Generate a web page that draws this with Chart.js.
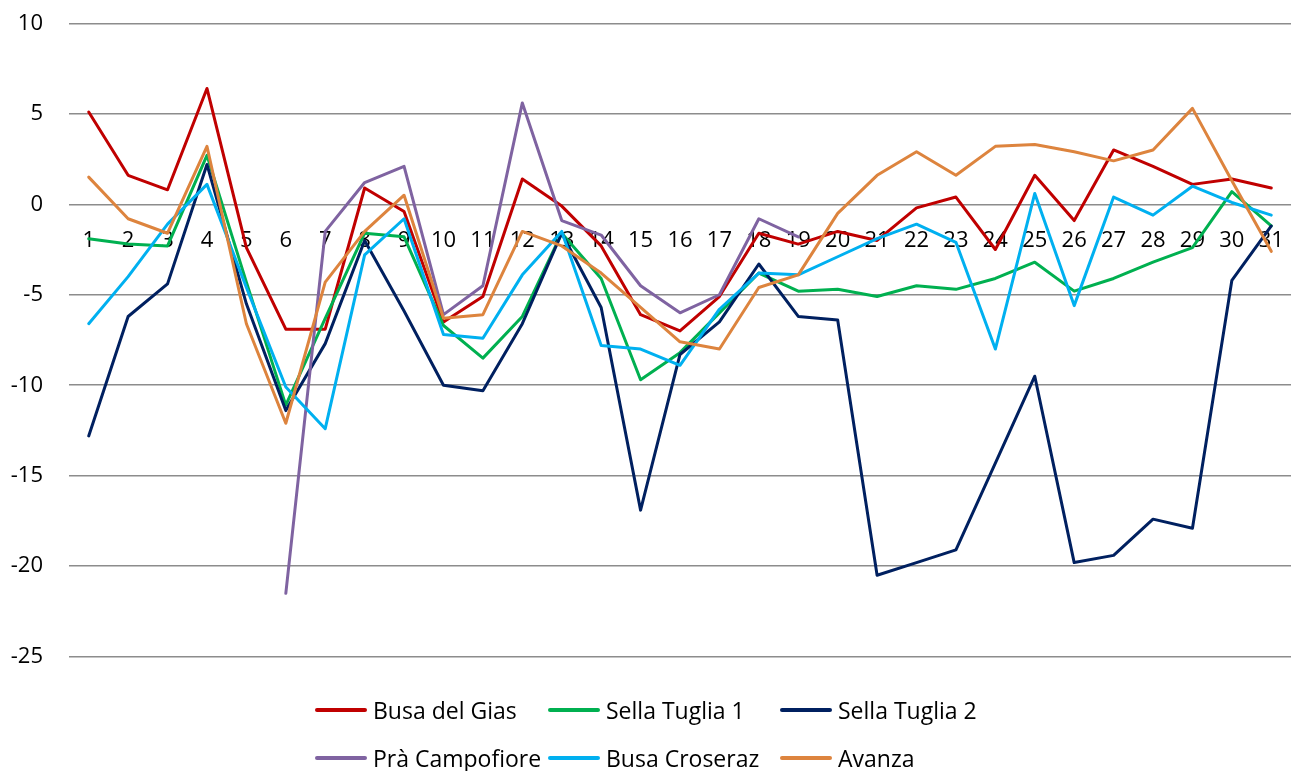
<!DOCTYPE html>
<html>
<head>
<meta charset="utf-8">
<script src="https://cdn.jsdelivr.net/npm/chart.js@4/dist/chart.umd.min.js"></script>
<style>
  html, body { margin: 0; padding: 0; background: #fff; }
  #wrap { position: relative; width: 1294px; height: 771px; overflow: hidden; }
  #chart { position: absolute; left: 0; top: 0; }
  .legend-item { position: absolute; display: flex; align-items: center; height: 30px;
                 font-family: "Open Sans", Lato, sans-serif; font-size: 23px; color: #000; white-space: nowrap; }
  .legend-swatch { width: 52px; height: 3.5px; border-radius: 2px; margin-right: 6px; }
</style>
</head>
<body>
<div id="wrap">
  <canvas id="chart" width="1294" height="771"></canvas>
  <div id="legend"></div>
</div>
<script>
// Days of the month on the category axis
const days = ['1','2','3','4','5','6','7','8','9','10','11','12','13','14','15','16',
              '17','18','19','20','21','22','23','24','25','26','27','28','29','30','31'];

// Value-axis ticks
const yTicks = [10, 5, 0, -5, -10, -15, -20, -25];

// Daily values per station
const busaDelGias   = [5.1, 1.6, 0.8, 6.4, -2.4, -6.9, -6.9, 0.9, -0.4, -6.5, -5.1, 1.4, -0.1, -2.3, -6.1, -7.0,
                       -5.1, -1.6, -2.2, -1.5, -2.0, -0.2, 0.4, -2.5, 1.6, -0.9, 3.0, 2.1, 1.1, 1.4, 0.9];
const sellaTuglia1  = [-1.9, -2.2, -2.3, 2.7, -4.3, -11.1, -6.3, -1.6, -1.8, -6.7, -8.5, -6.2, -1.6, -4.1, -9.7, -8.2,
                       -6.0, -3.8, -4.8, -4.7, -5.1, -4.5, -4.7, -4.1, -3.2, -4.8, -4.1, -3.2, -2.4, 0.7, -1.2];
const sellaTuglia2  = [-12.8, -6.2, -4.4, 2.2, -5.5, -11.4, -7.7, -2.0, -5.9, -10.0, -10.3, -6.6, -1.6, -5.7, -16.9, -8.3,
                       -6.5, -3.3, -6.2, -6.4, -20.5, -19.8, -19.1, -14.3, -9.5, -19.8, -19.4, -17.4, -17.9, -4.2, -1.2];
const praCampofiore = [null, null, null, null, null, -21.5, -1.5, 1.2, 2.1, -6.1, -4.5, 5.6, -0.9, -1.7, -4.5, -6.0,
                       -5.0, -0.8, -1.8, null, null, null, null, null, null, null, null, null, null, null, null];
const busaCroseraz  = [-6.6, -4.0, -1.1, 1.1, -4.6, -10.1, -12.4, -2.8, -0.8, -7.2, -7.4, -3.9, -1.5, -7.8, -8.0, -8.9,
                       -5.8, -3.8, -3.9, -2.9, -1.9, -1.1, -2.1, -8.0, 0.6, -5.6, 0.4, -0.6, 1.0, 0.1, -0.6];
const avanza        = [1.5, -0.8, -1.6, 3.2, -6.6, -12.1, -4.3, -1.5, 0.5, -6.3, -6.1, -1.5, -2.3, -3.8, -5.7, -7.6,
                       -8.0, -4.6, -3.9, -0.5, 1.6, 2.9, 1.6, 3.2, 3.3, 2.9, 2.4, 3.0, 5.3, 1.3, -2.6];

const seriesNames  = ['Busa del Gias', 'Sella Tuglia 1', 'Sella Tuglia 2', 'Prà Campofiore', 'Busa Croseraz', 'Avanza'];
const seriesValues = [busaDelGias, sellaTuglia1, sellaTuglia2, praCampofiore, busaCroseraz, avanza];
const seriesColors = ['#C00000', '#00B050', '#002060', '#7F63A1', '#00B0F0', '#DD843E'];

const FONT = '"Open Sans", Lato, sans-serif';

const datasets = seriesNames.map((name, i) => ({
  label: name,
  data: seriesValues[i],
  borderColor: seriesColors[i],
  backgroundColor: seriesColors[i],
  borderWidth: 3,
  pointRadius: 0,
  pointHoverRadius: 0,
  tension: 0,
  fill: false,
  spanGaps: false,
  borderCapStyle: 'round',
  borderJoinStyle: 'round',
  // later series are painted over earlier ones
  order: seriesNames.length - i
}));

const chart = new Chart(document.getElementById('chart'), {
  type: 'line',
  data: { labels: days, datasets },
  options: {
    responsive: false,
    animation: false,
    events: [],
    layout: { padding: { left: 0, right: 3, top: 23.3, bottom: 114.3 } },
    plugins: { legend: { display: false }, tooltip: { enabled: false } },
    scales: {
      x: {
        type: 'category',
        offset: true,
        position: { y: 0 },
        grid: { display: false, drawTicks: false },
        border: { display: false },
        ticks: {
          autoSkip: false, maxRotation: 0, minRotation: 0,
          padding: 23,
          color: '#000',
          font: { family: FONT, size: 22 }
        },
        afterFit: (scale) => {
          scale.height = 0;
          scale.paddingLeft = 0;
          scale.paddingRight = 0;
        }
      },
      y: {
        min: -25, max: 10,
        afterBuildTicks: (scale) => { scale.ticks = yTicks.map(v => ({ value: v })); },
        grid: { color: '#8C8C8C', lineWidth: 1.5, drawTicks: false },
        border: { display: false },
        ticks: {
          padding: 26,
          color: '#000',
          font: { family: FONT, size: 22 }
        },
        afterFit: (scale) => {
          scale.width = 69;
          scale.paddingTop = 0;
          scale.paddingBottom = 0;
        }
      }
    }
  }
});

// Legend laid out in a fixed three-column grid below the plot
const legend = document.getElementById('legend');
const colX = [315, 548, 780];
const rowY = [710, 758];
seriesNames.forEach((name, i) => {
  const item = document.createElement('div');
  item.className = 'legend-item';
  item.style.left = colX[i % 3] + 'px';
  item.style.top = (rowY[Math.floor(i / 3)] - 15) + 'px';
  const sw = document.createElement('span');
  sw.className = 'legend-swatch';
  sw.style.background = seriesColors[i];
  const tx = document.createElement('span');
  tx.textContent = name;
  item.appendChild(sw);
  item.appendChild(tx);
  legend.appendChild(item);
});
</script>
</body>
</html>
